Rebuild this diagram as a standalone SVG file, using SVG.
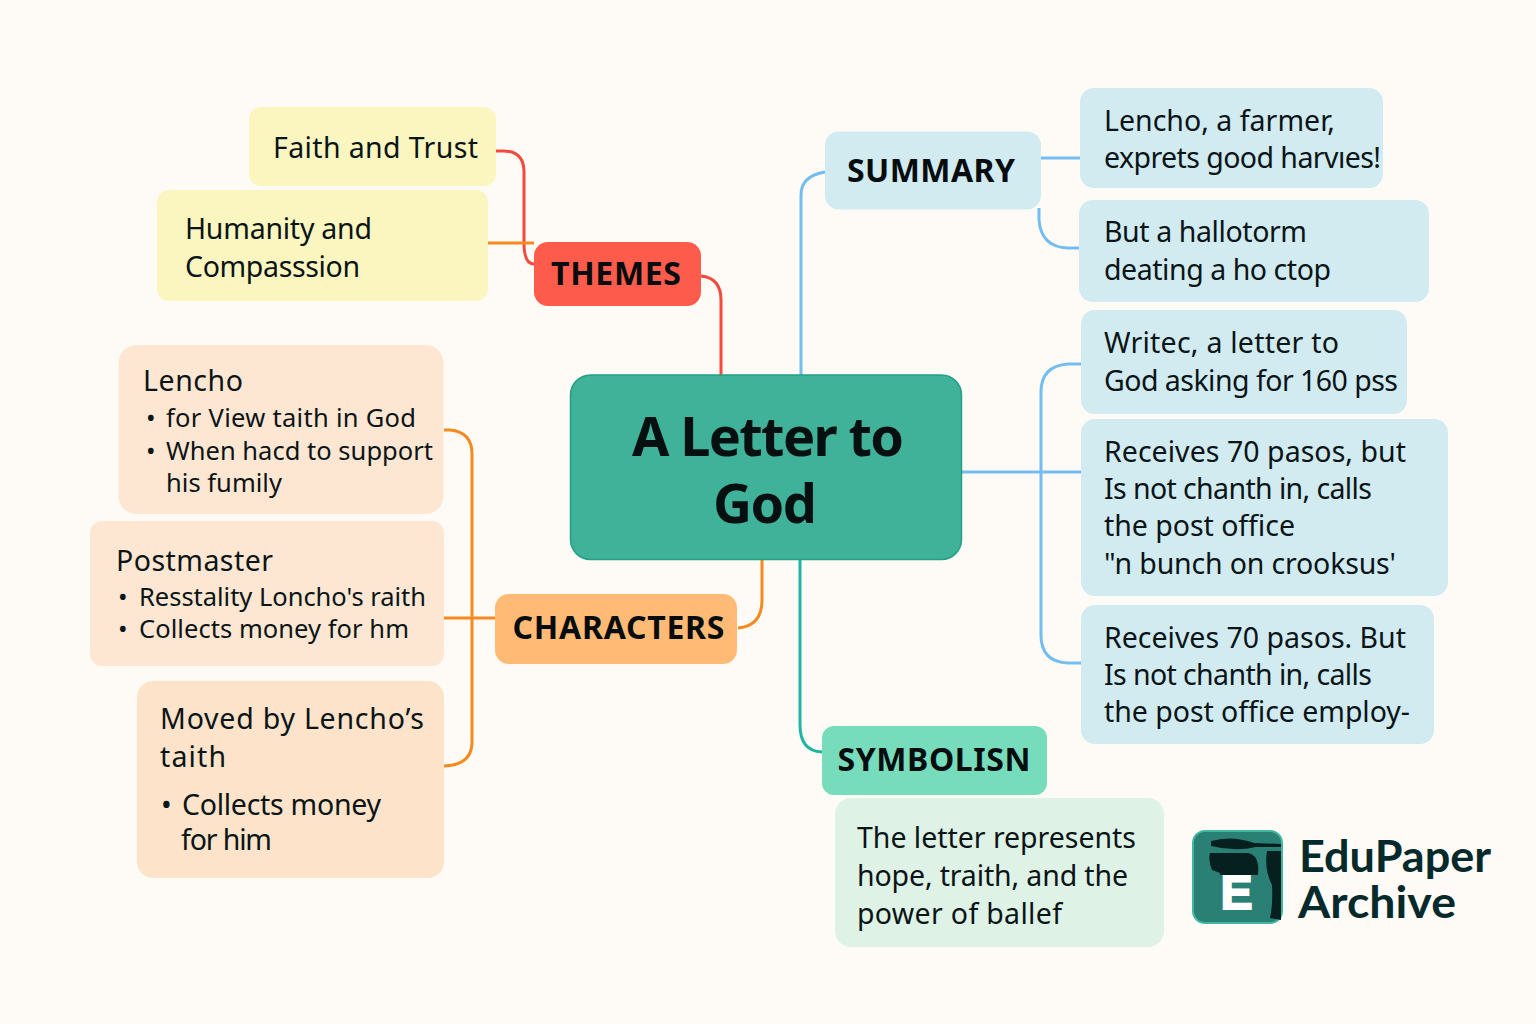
<svg xmlns="http://www.w3.org/2000/svg" width="1536" height="1024" viewBox="0 0 1536 1024">
<style>
text{font-family:"Noto Sans","Open Sans","Liberation Sans",sans-serif;fill:#0b1416}
.b{font-size:28.500px}
.s{font-size:25.500px}
.h{font-size:32px;font-weight:700;fill:#070d0e}
.c{fill:none;stroke-width:3}
.blue{stroke:#74bdf0}.org{stroke:#f58a1f}.red{stroke:#f5493c}.tea{stroke:#1fb5a3}
.lb{fill:#d1ebf1}.ly{fill:#fbf6c0}.lo{fill:#fde7d2}.lo2{fill:#fde3ca}.lg{fill:#dff2e6}
</style>
<rect width="1536" height="1024" fill="#fefbf6"/>
<g id="connectors">
<path class="c red" d="M496 151H503Q524 151 524 172V243Q524 264 534 264"/>
<path class="c org" d="M488 243H534"/>
<path class="c red" d="M701 276Q721 278 721 300V375"/>
<path class="c blue" d="M801 375V195Q801 176 825 172"/>
<path class="c blue" d="M1041 158H1080"/>
<path class="c blue" d="M1039 208V220Q1041 247 1068 248H1080"/>
<path class="c blue" d="M961 472H1081"/>
<path class="c blue" d="M1081 364H1068Q1041 366 1041 392V635Q1041 662 1068 663H1081"/>
<path class="c org" d="M762 559V600Q762 626 738 628"/>
<path class="c org" d="M444 430H450Q472 432 472 454V742Q472 765 444 766"/>
<path class="c org" d="M444 618H495"/>
<path class="c tea" d="M800 559V725Q800 751 822 752"/>
</g>
<g id="root"><rect x="570.500" y="375" width="391" height="184.500" rx="20" fill="#40b29a" stroke="#22a085" stroke-width="1.500"/>
<text x="768" y="456" text-anchor="middle" font-weight="700" textLength="272" style="font-size:54px;fill:#071010">A Letter to</text>
<text x="765" y="523" text-anchor="middle" font-weight="700" textLength="104" style="font-size:54px;fill:#071010">God</text></g>
<g id="themes"><rect x="534" y="242" width="167" height="64" rx="14" fill="#fd5c4c"/><text class="h" x="616" y="285" text-anchor="middle" textLength="130">THEMES</text></g>
<g id="summary"><rect x="825" y="131.500" width="216" height="78" rx="14" class="lb"/><text class="h" x="931" y="182" text-anchor="middle" textLength="168">SUMMARY</text></g>
<g id="characters"><rect x="495" y="594" width="242" height="70" rx="14" fill="#ffbb75"/><text class="h" x="618.500" y="639" text-anchor="middle" textLength="212">CHARACTERS</text></g>
<g id="symbolism"><rect x="822" y="726" width="225" height="69" rx="12" fill="#76dcbc"/><text class="h" x="934" y="771" text-anchor="middle" textLength="193">SYMBOLISN</text></g>
<g id="faith"><rect x="249" y="107" width="247" height="79" rx="12" class="ly"/><text class="b" x="273" y="158" textLength="205">Faith and Trust</text></g>
<g id="humanity"><rect x="157" y="190" width="331" height="111" rx="12" class="ly"/><text class="b" x="185" y="239" textLength="187">Humanity and</text><text class="b" x="185" y="277" textLength="175">Compasssion</text></g>
<g id="lencho"><rect x="118.500" y="345" width="325" height="169" rx="18" class="lo"/><text class="b" x="143" y="391" textLength="100">Lencho</text>
<text class="s" x="146" y="427">•</text><text class="s" x="166" y="427" textLength="250">for View taith in God</text>
<text class="s" x="146" y="460">•</text><text class="s" x="166" y="460" textLength="267">When hacd to support</text>
<text class="s" x="166" y="492" textLength="116">his fumily</text></g>
<g id="postmaster"><rect x="90" y="521" width="354" height="145" rx="12" class="lo"/><text class="b" x="116" y="571" textLength="157">Postmaster</text>
<text class="s" x="118" y="606">•</text><text class="s" x="139" y="606" textLength="287">Resstality Loncho's raith</text>
<text class="s" x="118" y="638">•</text><text class="s" x="139" y="638" textLength="270">Collects money for hm</text></g>
<g id="moved"><rect x="137" y="681" width="307" height="197" rx="16" class="lo2"/><text class="b" x="160" y="729" textLength="264">Moved by Lencho’s</text><text class="b" x="160" y="767" textLength="66">taith</text>
<text class="b" x="161" y="815">•</text><text class="b" x="182" y="815" textLength="199">Collects money</text><text class="b" x="181" y="850" textLength="91">for him</text></g>
<g id="s1"><rect x="1080" y="88" width="303" height="100" rx="14" class="lb"/><text class="b" x="1104" y="131" textLength="231">Lencho, a farmer,</text><text class="b" x="1104" y="168" textLength="277">exprets good harvıes!</text></g>
<g id="s2"><rect x="1079" y="200" width="350" height="102" rx="14" class="lb"/><text class="b" x="1104" y="242" textLength="203">But a hallotorm</text><text class="b" x="1104" y="280" textLength="227">deating a ho ctop</text></g>
<g id="s3"><rect x="1081" y="310" width="326" height="104" rx="14" class="lb"/><text class="b" x="1104" y="353" textLength="235">Writec, a letter to</text><text class="b" x="1104" y="391" textLength="294">God asking for 160 pss</text></g>
<g id="s4"><rect x="1081" y="419" width="367" height="177" rx="14" class="lb"/><text class="b" x="1104" y="462" textLength="302">Receives 70 pasos, but</text><text class="b" x="1104" y="499" textLength="268">Is not chanth in, calls</text><text class="b" x="1104" y="536" textLength="191">the post office</text><text class="b" x="1104" y="574" textLength="292">"n bunch on crooksus'</text></g>
<g id="s5"><rect x="1081" y="605" width="353" height="139" rx="14" class="lb"/><text class="b" x="1104" y="648" textLength="302">Receives 70 pasos. But</text><text class="b" x="1104" y="685" textLength="268">Is not chanth in, calls</text><text class="b" x="1104" y="722" textLength="306">the post office employ-</text></g>
<g id="sym"><rect x="835" y="798" width="329" height="149" rx="16" class="lg"/><text class="b" x="857" y="848" textLength="279">The letter represents</text><text class="b" x="857" y="886" textLength="271">hope, traith, and the</text><text class="b" x="857" y="924" textLength="205">power of ballef</text></g>
<g id="logo"><rect x="1193" y="831" width="89" height="92" rx="12" fill="#2a8075" stroke="#3fb8a0" stroke-width="2"/>
<path d="M1211 841Q1232 835 1254 843L1281 844V847H1256Q1235 852 1211 846ZM1210 853H1248Q1260 855 1258 875H1220V873L1212 870Q1208 860 1210 853ZM1267 851H1281V920L1270 918Q1273 905 1272 885Q1264 870 1267 851Z" fill="#06201f"/>
<rect x="1220" y="875" width="33" height="35" fill="#2a8075"/>
<text x="1236.500" y="909" text-anchor="middle" textLength="32" style="font-size:48px;font-weight:700;font-family:'Liberation Sans',sans-serif;fill:#fff;stroke:#fff;stroke-width:2">E</text>
<text x="1299" y="872" lengthAdjust="spacingAndGlyphs" style="font-family:Lato,sans-serif;font-size:43px;font-weight:700;fill:#062a2c" textLength="192">EduPaper</text><text x="1298" y="918" lengthAdjust="spacingAndGlyphs" style="font-family:Lato,sans-serif;font-size:43px;font-weight:700;fill:#062a2c" textLength="158">Archive</text></g>
</svg>
